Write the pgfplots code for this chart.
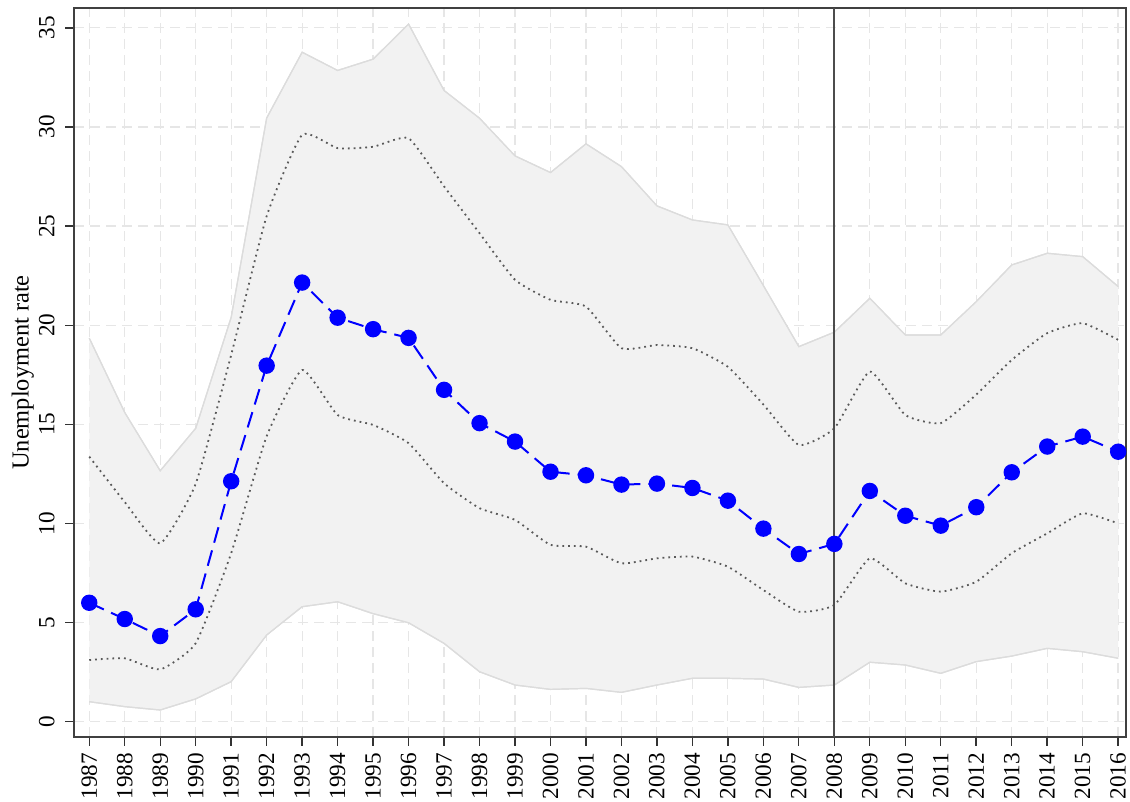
\documentclass[border=0pt]{standalone}
\usepackage{pgfplots}
\pgfplotsset{compat=1.18}
\usepgfplotslibrary{fillbetween}
\usepackage{pgfplotstable}
\usepackage{fontspec}
\setmainfont{Liberation Serif}

\definecolor{bandfill}{HTML}{F2F2F2}
\definecolor{bandedge}{HTML}{DCDCDC}
\definecolor{gridc}{HTML}{E6E6E6}

% year, mean, outer lo/hi, inner lo/hi
\pgfplotstableread{
year mean  olo   ohi   ilo   ihi
1987 6.00  1.01  19.35 3.11  13.37
1988 5.18  0.76  15.60 3.20  11.08
1989 4.32  0.59  12.66 2.64  9.00
1990 5.67  1.15  14.80 3.96  12.00
1991 12.13 2.02  20.40 8.50  18.50
1992 17.96 4.37  30.45 14.40 25.50
1993 22.15 5.80  33.77 17.74 29.60
1994 20.38 6.05  32.85 15.47 28.93
1995 19.80 5.45  33.42 14.97 29.00
1996 19.36 4.99  35.19 14.05 29.43
1997 16.74 3.95  31.84 12.03 27.00
1998 15.06 2.52  30.44 10.77 24.64
1999 14.13 1.85  28.54 10.18 22.29
2000 12.61 1.63  27.70 8.92  21.28
2001 12.43 1.68  29.15 8.83  20.94
2002 11.96 1.48  28.00 7.99  18.84
2003 12.01 1.85  26.02 8.24  19.00
2004 11.79 2.19  25.31 8.33  18.84
2005 11.15 2.19  25.06 7.82  17.90
2006 9.74  2.15  22.00 6.64  16.00
2007 8.46  1.73  18.92 5.55  13.96
2008 8.97  1.85  19.65 5.89  14.80
2009 11.64 3.00  21.36 8.24  17.66
2010 10.39 2.86  19.51 6.98  15.47
2011 9.89  2.44  19.51 6.56  15.06
2012 10.82 3.03  21.19 7.06  16.50
2013 12.58 3.31  23.04 8.50  18.25
2014 13.88 3.70  23.63 9.50  19.60
2015 14.38 3.53  23.46 10.51 20.10
2016 13.62 3.20  21.95 10.00 19.26
}\data

\begin{document}
\begin{tikzpicture}
\begin{axis}[
  scale only axis,
  width=526pt, height=364.5pt,
  xmin=1986.57, xmax=2016.22,
  ymin=-0.77, ymax=36.0,
  xtick={1987,...,2016},
  ytick={0,5,...,35},
  xticklabel style={rotate=90, anchor=east, font=\fontsize{11.6}{13}\selectfont},
  yticklabel style={rotate=90, anchor=south, inner sep=5pt, font=\fontsize{11.6}{13}\selectfont},
  /pgf/number format/assume math mode=true,
  /pgf/number format/1000 sep={},
  ylabel={Unemployment rate},
  ylabel style={font=\fontsize{12.2}{14}\selectfont, yshift=-6pt},
  tick align=outside,
  major tick length=4.5pt,
  tick style={black!80, line width=0.7pt},
  xtick pos=bottom, ytick pos=left,
  axis line style={line width=0.9pt, black!75},
  grid=major,
  major grid style={gridc, dash pattern=on 5pt off 3pt, line width=0.6pt},
  clip=false,
]
\addplot[name path=ohi, draw=bandedge, line width=0.6pt] table[x=year,y=ohi]{\data};
\addplot[name path=olo, draw=bandedge, line width=0.6pt] table[x=year,y=olo]{\data};
\addplot[bandfill] fill between[of=ohi and olo];
\addplot[draw=bandedge, line width=0.6pt] table[x=year,y=ohi]{\data};
\addplot[draw=bandedge, line width=0.6pt] table[x=year,y=olo]{\data};
\addplot[black!65, line width=0.9pt, dotted, smooth, tension=0.3] table[x=year,y=ihi]{\data};
\addplot[black!65, line width=0.9pt, dotted, smooth, tension=0.3] table[x=year,y=ilo]{\data};
\draw[black!70, line width=1pt] (axis cs:2008,-0.77) -- (axis cs:2008,36.0);
\addplot[blue, line width=1pt, dash pattern=on 8pt off 4pt,
  mark=*, mark size=3.6pt, mark options={solid, fill=blue, draw=blue}]
  table[x=year,y=mean]{\data};
\coordinate (sw) at (rel axis cs:0,0);
\coordinate (ne) at (rel axis cs:1,1);
\end{axis}
\pgfresetboundingbox
\path[use as bounding box] ([shift={(-37pt,-32.5pt)}]sw) rectangle ([shift={(2pt,4pt)}]ne);
\end{tikzpicture}
\end{document}
